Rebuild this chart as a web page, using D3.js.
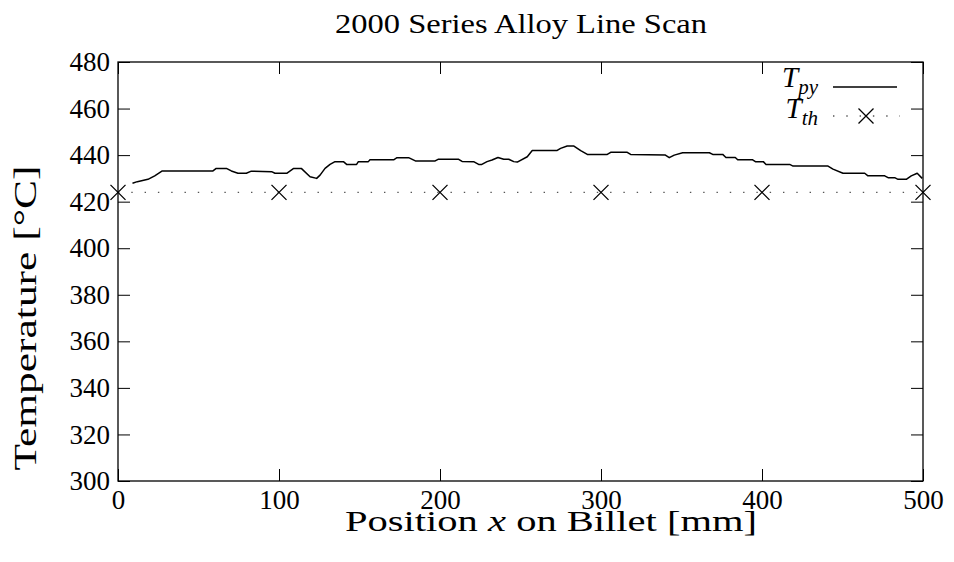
<!DOCTYPE html>
<html>
<head>
<meta charset="utf-8">
<script src="https://cdn.jsdelivr.net/npm/d3@7"></script>
<style>
  body { margin: 0; background: #fff; }
  svg text { font-family: "Liberation Serif", "DejaVu Serif", serif; fill: #000; }
</style>
</head>
<body>
<svg id="chart" width="954" height="562"></svg>
<script>
// pyrometer scan
var pyPos  = [9, 12, 18.6, 22.8, 27.5, 59, 61, 67.3, 70.4, 74.5, 79.7, 82.8, 95.4, 97.5, 104.8, 108.9, 114,
              119.3, 123.4, 125.5, 128.6, 131.7, 134.8, 140, 142, 148.2, 149.3, 155.5, 156.5, 171.2, 173.3,
              180.5, 184.7, 197, 198.8, 211.6, 213.7, 220.9, 224, 226, 229.2, 232.3, 236, 239.6, 242.7, 245.8,
              248, 254.2, 257.3, 272.8, 274.9, 279, 283.2, 287.4, 291.5, 303.9, 306, 316.3, 318.4, 340, 342.4,
              345.5, 350.7, 367.3, 369.4, 375.6, 377.6, 383.4, 384.9, 394.2, 395.9, 400.8, 402.5, 417.2, 419.3,
              441, 444.1, 450.3, 463.8, 465.8, 476.2, 478.3, 482.4, 484.5, 489.6, 492.7, 496.4, 499.5];
var pyTemp = [427.9, 428.6, 429.6, 431.1, 433.2, 433.2, 434.3, 434.3, 433.2, 432.2, 432.2, 433.1, 432.9, 432.2, 432.2, 434.2, 434.2,
              430.7, 430.0, 431.4, 434.3, 436.0, 437.2, 437.2, 436.0, 436.0, 437.2, 437.2, 438.0, 438.0, 438.9,
              438.9, 437.5, 437.5, 438.2, 438.2, 437.3, 437.2, 436.0, 436.0, 437.2, 437.9, 439.0, 438.2, 438.2, 437.2,
              437.0, 439.3, 442.0, 442.0, 442.9, 443.9, 443.9, 441.9, 440.3, 440.3, 441.2, 441.2, 440.3, 440.0, 438.9,
              440.0, 441.0, 441.0, 440.3, 440.3, 439.0, 439.0, 438.0, 438.0, 437.2, 437.2, 436.0, 436.0, 435.3,
              435.3, 434.0, 432.2, 432.2, 431.1, 431.1, 430.3, 430.3, 429.6, 429.6, 431.1, 432.2, 430.0];
// thermocouple readings
var thPos  = [0, 100, 200, 300, 400, 500];
var thTemp = [424, 424, 424, 424, 424, 424];

var xTicks = [0, 100, 200, 300, 400, 500];
var yTicks = [300, 320, 340, 360, 380, 400, 420, 440, 460, 480];

var svg = d3.select("#chart");
var mLeft = 118, mRight = 923, mTop = 62, mBottom = 481;

var x = d3.scaleLinear().domain([0, 500]).range([mLeft, mRight]);
var y = d3.scaleLinear().domain([300, 480]).range([mBottom, mTop]);

// tick marks, inward on all four sides
var tk = 12;
svg.append("g").attr("transform", "translate(0," + mBottom + ")")
  .call(d3.axisBottom(x).tickValues(xTicks).tickSizeInner(-tk).tickSizeOuter(0).tickPadding(9))
  .call(function(g){ g.select(".domain").remove(); });
svg.append("g").attr("transform", "translate(0," + mTop + ")")
  .call(d3.axisTop(x).tickValues(xTicks).tickSizeInner(-tk).tickSizeOuter(0).tickFormat(""))
  .call(function(g){ g.select(".domain").remove(); });
svg.append("g").attr("transform", "translate(" + mLeft + ",0)")
  .call(d3.axisLeft(y).tickValues(yTicks).tickSizeInner(-tk).tickSizeOuter(0).tickPadding(8))
  .call(function(g){ g.select(".domain").remove(); });
svg.append("g").attr("transform", "translate(" + mRight + ",0)")
  .call(d3.axisRight(y).tickValues(yTicks).tickSizeInner(-tk).tickSizeOuter(0).tickFormat(""))
  .call(function(g){ g.select(".domain").remove(); });

svg.selectAll(".tick line").attr("stroke", "#000").attr("stroke-width", 1);
svg.selectAll(".tick text").style("font-family", "Liberation Serif").style("font-size", "27px");

svg.append("rect")
  .attr("x", mLeft).attr("y", mTop)
  .attr("width", mRight - mLeft).attr("height", mBottom - mTop)
  .attr("fill", "none").attr("stroke", "#000").attr("stroke-width", 1.3);

// thermocouple dotted line + crosses
svg.append("path")
  .datum(thPos.map(function(d, i){ return [d, thTemp[i]]; }))
  .attr("fill", "none").attr("stroke", "#555").attr("stroke-width", 1.3)
  .attr("stroke-dasharray", "1.4 11.9")
  .attr("d", d3.line().x(function(d){ return x(d[0]); }).y(function(d){ return y(d[1]); }));

var cs = 7.5;
svg.selectAll(".cross")
  .data(thPos.map(function(d, i){ return [d, thTemp[i]]; }))
  .enter().append("path")
  .attr("class", "cross")
  .attr("fill", "none").attr("stroke", "#000").attr("stroke-width", 1.3)
  .attr("d", function(d){
    var cx = x(d[0]), cy = y(d[1]);
    return "M" + (cx - cs) + "," + (cy - cs) + "L" + (cx + cs) + "," + (cy + cs) +
           "M" + (cx - cs) + "," + (cy + cs) + "L" + (cx + cs) + "," + (cy - cs);
  });

// pyrometer line
svg.append("path")
  .datum(pyPos.map(function(d, i){ return [d, pyTemp[i]]; }))
  .attr("fill", "none").attr("stroke", "#000").attr("stroke-width", 1.5)
  .attr("stroke-linejoin", "round")
  .attr("d", d3.line().x(function(d){ return x(d[0]); }).y(function(d){ return y(d[1]); }));

// legend
var lg = svg.append("g");
var t1 = lg.append("text").attr("x", 818).attr("y", 87).attr("text-anchor", "end").style("font-size", "29px");
t1.append("tspan").style("font-style", "italic").text("T");
t1.append("tspan").attr("dy", 7).style("font-style", "italic").style("font-size", "21px").text("py");
lg.append("line").attr("x1", 833).attr("x2", 897).attr("y1", 87).attr("y2", 87)
  .attr("stroke", "#000").attr("stroke-width", 1.5);

var t2 = lg.append("text").attr("x", 818).attr("y", 118).attr("text-anchor", "end").style("font-size", "29px");
t2.append("tspan").style("font-style", "italic").text("T");
t2.append("tspan").attr("dy", 7).style("font-style", "italic").style("font-size", "21px").text("th");
lg.append("line").attr("x1", 833).attr("x2", 900).attr("y1", 116).attr("y2", 116)
  .attr("stroke", "#555").attr("stroke-width", 1.3).attr("stroke-dasharray", "1.4 11.9");
lg.append("path").attr("fill", "none").attr("stroke", "#000").attr("stroke-width", 1.3)
  .attr("d", "M" + (866 - cs) + "," + (116 - cs) + "L" + (866 + cs) + "," + (116 + cs) +
             "M" + (866 - cs) + "," + (116 + cs) + "L" + (866 + cs) + "," + (116 - cs));

// titles (computer-modern is wider than Times, so stretch to the reference width)
svg.append("text").attr("x", 521).attr("y", 33).attr("text-anchor", "middle")
  .attr("textLength", 372).attr("lengthAdjust", "spacingAndGlyphs")
  .style("font-size", "27px").text("2000 Series Alloy Line Scan");

var xl = svg.append("text").attr("x", 551).attr("y", 531).attr("text-anchor", "middle")
  .attr("textLength", 412).attr("lengthAdjust", "spacingAndGlyphs").style("font-size", "30px");
xl.append("tspan").text("Position ");
xl.append("tspan").style("font-style", "italic").text("x");
xl.append("tspan").text(" on Billet [mm]");

svg.append("text").attr("transform", "translate(36,318) rotate(-90)").attr("text-anchor", "middle")
  .attr("textLength", 305).attr("lengthAdjust", "spacingAndGlyphs")
  .style("font-size", "32px").text("Temperature [°C]");
</script>
</body>
</html>
